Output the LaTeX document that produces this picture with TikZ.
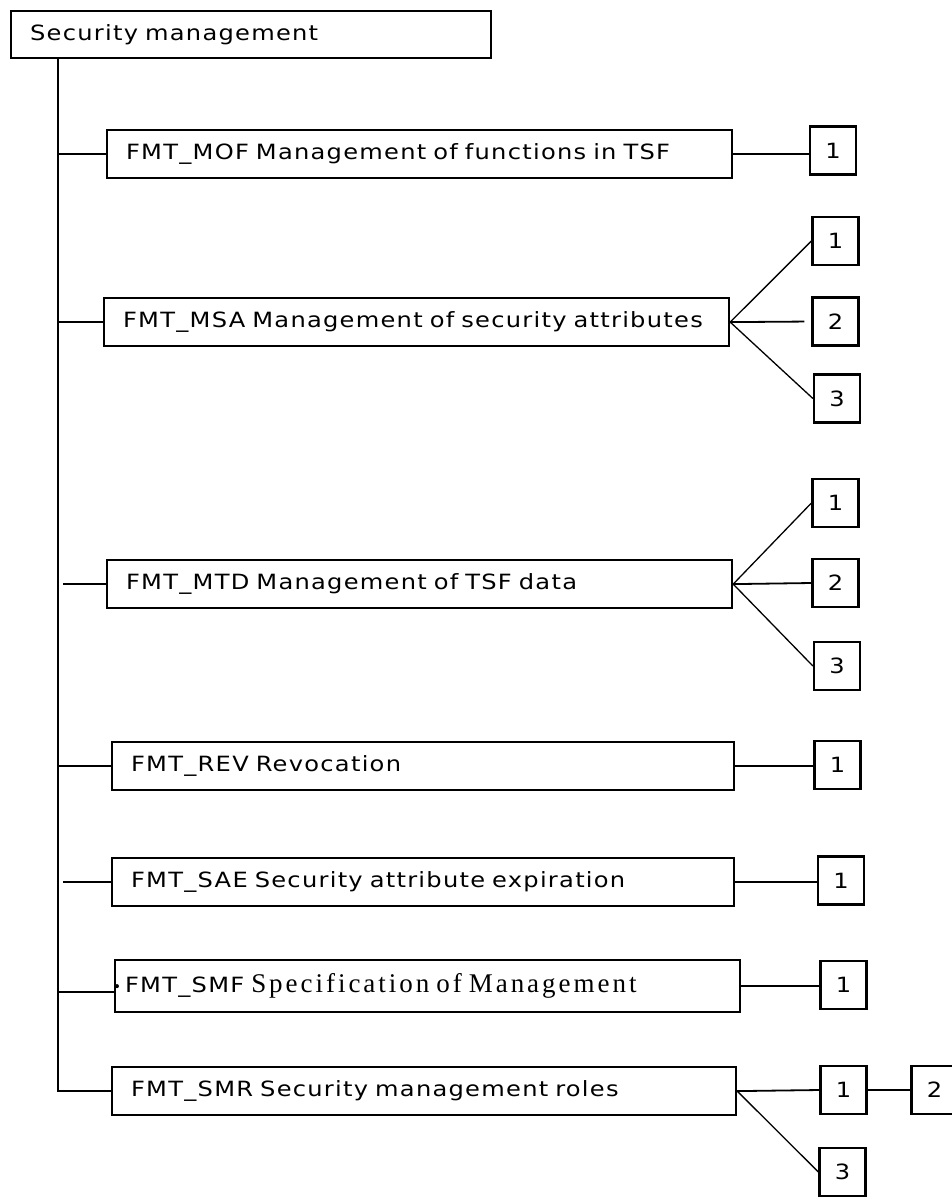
\documentclass[tikz,border=0pt]{standalone}
\usepackage{fontspec}
\usepackage{tikz}
\usetikzlibrary{positioning,calc}

\newfontfamily\diafont[FakeStretch=1.15, LetterSpace=6]{DejaVu Sans}
\newfontfamily\smfserif[LetterSpace=11]{Liberation Serif}

\begin{document}
\begin{tikzpicture}[
        x=1pt, y=-1pt,
        fambox/.style={rectangle, draw, line width=2.2pt, anchor=north west, align=left,
            inner xsep=19pt, inner ysep=0pt, minimum height=48pt, text width=#1,
            font={\diafont\fontsize{21}{24}\selectfont}},
        leaf/.style={rectangle, draw, line width=2.2pt, minimum width=46pt, minimum height=48pt,
            inner sep=0pt, font={\diafont\fontsize{21}{24}\selectfont}},
        link/.style={line width=1.8pt},
        fan/.style={line width=1.3pt}
    ]
    \useasboundingbox (0,0) rectangle (952,1197);

    % Root
    \node[fambox=442pt, minimum height=47pt] (root) at (10,10) {Security management};
    \coordinate (trunk) at (58,57);

    % Families
    \node[fambox=587pt] (mof) at (106,129) {FMT\_MOF Management of functions in TSF};
    \node[fambox=587pt] (msa) at (103,297) {FMT\_MSA Management of security attributes};
    \node[fambox=587pt] (mtd) at (106,559) {FMT\_MTD Management of TSF data};
    \node[fambox=584pt] (rev) at (111,741) {FMT\_REV Revocation};
    \node[fambox=584pt] (sae) at (111,857) {FMT\_SAE Security attribute expiration};
    \node[fambox=605pt, inner xsep=10pt, minimum height=52pt] (smf) at (114,959)
        {FMT\_SMF {\smfserif\fontsize{27}{30}\selectfont Specification of Management}};
    \node[fambox=586pt] (smr) at (111,1066) {FMT\_SMR Security management roles};

    % Components
    \node[leaf] (mof1) at (833,150.5) {1};
    \node[leaf] (msa1) at (835.5,241) {1};
    \node[leaf] (msa2) at (835.5,321.5) {2};
    \node[leaf] (msa3) at (837,398.5) {3};
    \node[leaf] (mtd1) at (835.5,503) {1};
    \node[leaf] (mtd2) at (835.5,583) {2};
    \node[leaf] (mtd3) at (837,666) {3};
    \node[leaf] (rev1) at (837.5,765) {1};
    \node[leaf] (sae1) at (841,880.5) {1};
    \node[leaf] (smf1) at (843.5,985) {1};
    \node[leaf] (smr1) at (843.5,1090) {1};
    \node[leaf] (smr2) at (934.5,1090) {2};
    \node[leaf] (smr3) at (842.5,1172) {3};

    % Trunk and branches
    \draw[line width=2.2pt] (trunk) |- (smr.west);
    \foreach \f in {mof,msa,rev}
        \draw[link] (trunk |- \f.west) -- (\f.west);
    \foreach \f in {mtd,sae}
        \draw[link, shorten <=5pt] (trunk |- \f.west) -- (\f.west);
    \draw[link] (trunk |- 0,992) -- (smf.west |- 0,992);
    \fill ([xshift=3pt]smf.west) circle (2pt);

    % Links to components
    \foreach \f in {mof,rev,sae,smf}
        \draw[link] (\f.east) -- (\f.east -| \f1.west);
    \draw[fan] (msa.east) -- (msa1.west);
    \draw[link, shorten >=7pt] (msa.east) -- (msa2.west);
    \draw[fan] (msa.east) -- (msa3.west);
    \draw[fan] (mtd.east) -- (mtd1.west);
    \draw[link] (mtd.east) -- (mtd2.west);
    \draw[fan] (mtd.east) -- (mtd3.west);
    \draw[link] (smr.east) -- (smr1.west);
    \draw[link] (smr1.east) -- (smr2.west);
    \draw[fan] (smr.east) -- (smr3.west);

\end{tikzpicture}
\end{document}
